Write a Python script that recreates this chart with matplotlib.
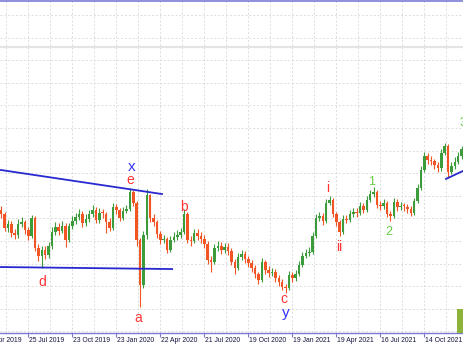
import matplotlib
matplotlib.use("Agg")
import matplotlib.pyplot as plt
import matplotlib.transforms as mtransforms
from matplotlib.patches import Rectangle

# weekly bars (bar 0 = first visible bar)
closes = [
    77.20, 76.58, 76.76, 76.36, 76.27, 76.76, 76.84, 76.49, 76.23, 77.02,
    75.69, 75.34, 75.61, 75.38, 75.78, 76.40, 76.62, 76.45, 76.67, 76.05,
    76.67, 76.89, 77.07, 77.20, 76.80, 76.98, 77.20, 77.38, 76.93, 77.24,
    77.20, 76.84, 76.58, 77.51, 77.38, 77.02, 77.33, 77.42, 78.17, 77.69,
    76.05, 74.06, 76.27, 78.04, 77.02, 76.84, 76.31, 76.05, 76.09, 75.61,
    76.05, 76.18, 76.27, 76.40, 77.20, 76.05, 76.00, 76.36, 76.23, 76.09,
    75.87, 75.16, 75.08, 75.69, 75.78, 75.61, 75.74, 75.56, 75.08, 74.81,
    75.30, 75.43, 75.21, 75.03, 74.81, 74.54, 74.28, 75.08, 74.72, 74.59,
    74.63, 74.37, 74.19, 73.97, 73.92, 74.50, 74.37, 74.54, 74.94, 75.34,
    75.47, 75.52, 76.23, 77.02, 77.11, 76.89, 77.69, 77.82, 77.20, 76.84,
    76.40, 76.98, 76.93, 77.20, 77.29, 77.24, 77.55, 77.38, 77.82, 78.08,
    78.17, 77.60, 77.55, 77.69, 77.20, 77.11, 77.73, 77.51, 77.55, 77.51,
    77.42, 77.24, 77.77, 78.35, 79.15, 79.77, 79.59, 79.54, 79.37, 79.23,
    79.90, 80.21, 79.06, 79.32, 79.50, 79.77, 80.07,
]
highs = [
    77.55, 77.30, 76.95, 76.90, 76.55, 76.98, 77.07, 76.95, 76.62, 77.15,
    77.10, 75.85, 75.80, 75.78, 75.95, 76.60, 76.85, 76.80, 76.90, 76.78,
    76.82, 77.10, 77.25, 77.40, 77.32, 77.18, 77.38, 77.58, 77.50, 77.45,
    77.42, 77.30, 77.00, 77.68, 77.65, 77.48, 77.50, 77.60, 78.35, 78.25,
    77.78, 76.15, 76.45, 78.31, 78.10, 77.20, 76.95, 76.45, 76.28, 76.20,
    76.22, 76.38, 76.48, 76.58, 77.42, 77.28, 76.22, 76.55, 76.52, 76.40,
    76.25, 75.98, 75.32, 75.88, 76.00, 75.95, 75.92, 75.90, 75.68, 75.20,
    75.48, 75.62, 75.58, 75.35, 75.15, 74.95, 74.65, 75.25, 75.18, 74.88,
    74.82, 74.75, 74.50, 74.30, 74.12, 74.68, 74.62, 74.72, 75.12, 75.52,
    75.65, 75.72, 76.40, 77.20, 77.30, 77.22, 77.85, 78.00, 77.90, 77.30,
    76.95, 77.15, 77.15, 77.38, 77.48, 77.45, 77.72, 77.68, 78.00, 78.25,
    78.39, 78.25, 77.75, 77.88, 77.78, 77.35, 77.90, 77.85, 77.72, 77.70,
    77.62, 77.55, 77.92, 78.52, 79.32, 79.95, 79.88, 79.75, 79.65, 79.50,
    80.08, 80.34, 80.28, 79.50, 79.70, 79.95, 80.22,
]
lows = [
    77.02, 76.45, 76.42, 76.18, 76.10, 76.15, 76.60, 76.30, 76.05, 76.12,
    75.55, 75.10, 74.81, 75.20, 75.25, 75.65, 76.25, 76.25, 76.35, 75.74,
    75.95, 76.55, 76.75, 76.95, 76.62, 76.68, 76.85, 77.08, 76.78, 76.82,
    77.02, 76.36, 76.45, 76.50, 77.20, 76.88, 76.92, 77.22, 77.35, 77.55,
    75.80, 73.08, 73.90, 76.10, 76.85, 76.65, 76.15, 75.88, 75.90, 75.45,
    75.50, 75.95, 76.05, 76.15, 76.30, 75.90, 75.80, 75.90, 76.05, 75.92,
    75.70, 75.00, 74.63, 74.98, 75.55, 75.42, 75.48, 75.38, 74.92, 74.54,
    74.70, 75.18, 75.05, 74.85, 74.62, 74.38, 74.10, 74.18, 74.55, 74.42,
    74.45, 74.20, 74.02, 73.82, 73.70, 73.85, 74.20, 74.25, 74.45, 74.85,
    75.25, 75.35, 75.42, 76.15, 76.90, 76.72, 76.80, 77.58, 77.05, 76.68,
    76.23, 76.32, 76.78, 76.85, 77.08, 77.08, 77.15, 77.22, 77.30, 77.72,
    77.95, 77.45, 77.38, 77.42, 77.05, 76.89, 77.02, 77.35, 77.38, 77.35,
    77.25, 77.10, 77.15, 77.68, 78.25, 79.05, 79.40, 79.35, 79.18, 79.05,
    79.12, 79.80, 78.79, 78.95, 79.20, 79.40, 79.65,
]
first_open = 77.38

tick_pos = [-5, 8, 21, 34, 47, 60, 73, 86, 99, 112, 125]
tick_labels = ["26 Apr 2019", "25 Jul 2019", "23 Oct 2019", "23 Jan 2020",
               "22 Apr 2020", "21 Jul 2020", "19 Oct 2020", "19 Jan 2021",
               "19 Apr 2021", "16 Jul 2021", "14 Oct 2021"]

# wave labels: text, bar position, price, colour
waves = [
    ("x", 38.64, 79.27, "#3333ff"), ("e", 38.25, 78.70, "#ff3333"),
    ("b", 54.0, 77.52, "#ff3333"), ("d", 12.25, 74.19, "#ff3333"),
    ("a", 40.61, 72.58, "#ff3333"), ("c", 83.45, 73.42, "#ff3333"),
    ("y", 84.13, 72.80, "#3333ff"), ("i", 96.54, 78.34, "#ff3333"),
    ("ii", 99.79, 75.75, "#ff3333"), ("1", 109.33, 78.63, "#66cc44"),
    ("2", 114.56, 76.39, "#66cc44"), ("3", 136.3, 81.23, "#66cc44"),
]

# trend lines (bar, price) pairs
upper_line = ([-0.36, 47.5], [79.15, 78.08])
lower_line = ([-0.36, 50.5], [74.85, 74.76])
right_line = ([131.4, 136.4], [78.75, 79.10])
level_line = 84.59

UP = "#3c9c3c"
DOWN = "#f25524"

fig = plt.figure(figsize=(4.63, 3.48), dpi=100)
ax = fig.add_axes([0, 15 / 348, 1, 333 / 348])
ax.set_xlim(-0.36, 136.42)
ax.set_ylim(71.93, 86.668)

# grid
for p in range(72, 87):
    ax.axhline(p, color="#dcdcdc", lw=0.7, ls=(0, (2, 2)), zorder=0)
k = 1.5
while k < 137:
    ax.axvline(k, color="#dcdcdc", lw=0.7, ls=(0, (2, 2)), zorder=0)
    k += 6.5

ax.axhline(level_line, color="#e4e4e4", lw=1.6, zorder=1)
ax.axhline(86.62, color="#7c7cd8", lw=1.2, zorder=1)

# candles
prev = first_open
for i, c in enumerate(closes):
    o = prev
    col = UP if c >= o else DOWN
    ax.vlines(i, lows[i], highs[i], color=col, lw=0.8, zorder=2)
    h = c - o
    if abs(h) < 0.04:
        h = 0.04
    ax.bar(i, h, bottom=o, width=0.75, color=col, lw=0, zorder=3)
    prev = c

for xs, ys in (upper_line, lower_line, right_line):
    ax.plot(xs, ys, color="#2828d0", lw=1.3, zorder=4)

for t, xi, p, col in waves:
    size = 11 if col == "#3333ff" else (9 if col == "#66cc44" else 10)
    ax.text(xi, p, t, color=col, fontsize=size, ha="center", va="center",
            family=["Liberation Sans", "DejaVu Sans"], zorder=5, clip_on=False)

ax.add_patch(Rectangle((134.6, 71.93), 2.0, 1.07, color="#8db33a", lw=0, zorder=5))

for s in ("top", "left", "right"):
    ax.spines[s].set_visible(False)
ax.spines["bottom"].set_color("#7a7ad0")
ax.spines["bottom"].set_linewidth(1.0)
ax.set_yticks([])
ax.set_xticks([t for t in tick_pos if t >= 0])
ax.set_xticklabels([])
ax.tick_params(axis="x", length=3, width=0.8, color="#7a7ad0", direction="out")

trans = mtransforms.blended_transform_factory(ax.transData, fig.transFigure)
for t, lab in zip(tick_pos, tick_labels):
    ax.text(t + 0.3, 8 / 348, lab, transform=trans, fontsize=4.9, color="#141440",
            ha="left", va="center", family=["Liberation Sans", "DejaVu Sans"],
            clip_on=False)

fig.savefig("out.png", dpi=100, facecolor="white")
